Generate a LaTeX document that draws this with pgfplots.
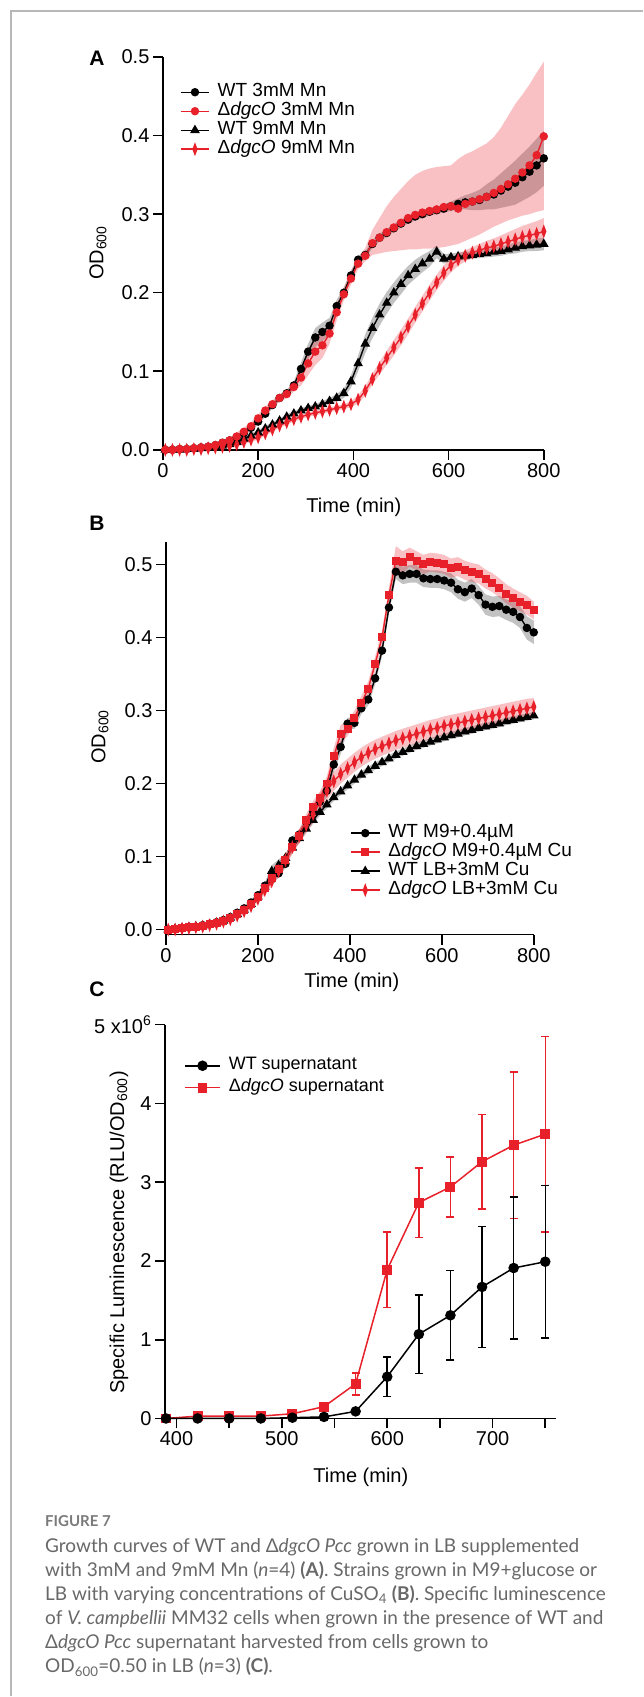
\documentclass[border=0pt]{standalone}
\usepackage{fontspec}
\setmainfont{Liberation Sans}
\newfontfamily\capfont{Lato}
\usepackage{pgfplots}
\usepackage{pgfplotstable}
\pgfplotsset{compat=1.18}
\usepgfplotslibrary{fillbetween}
\definecolor{pred}{HTML}{E8202A}
\definecolor{capgray}{HTML}{686868}
\newcommand\tf{\fontsize{20}{22}\selectfont}
\newcommand\lf{\fontsize{19}{21}\selectfont}

% panel A: Mn growth curves (mean, sd)
\pgfplotstableread{
t w3 sw3 d3 d3lo d3hi w9 sw9 d9 sd9
5 0.000 0.002 0.000 -0.003 0.003 0.000 0.002 0.000 0.002
20 0.000 0.002 0.000 -0.003 0.003 0.000 0.002 0.000 0.002
35 0.001 0.002 0.001 -0.002 0.004 0.000 0.002 0.000 0.002
50 0.001 0.002 0.001 -0.002 0.004 0.001 0.002 0.000 0.002
65 0.002 0.002 0.002 -0.001 0.005 0.001 0.002 0.001 0.002
80 0.003 0.002 0.003 0.000 0.006 0.002 0.002 0.001 0.002
95 0.004 0.002 0.004 0.001 0.007 0.003 0.002 0.002 0.002
110 0.006 0.003 0.006 0.002 0.010 0.004 0.002 0.003 0.002
125 0.009 0.003 0.009 0.005 0.013 0.005 0.002 0.004 0.002
140 0.012 0.003 0.012 0.008 0.016 0.007 0.003 0.005 0.002
155 0.016 0.003 0.017 0.012 0.022 0.010 0.003 0.007 0.003
170 0.021 0.003 0.023 0.018 0.028 0.014 0.003 0.010 0.003
185 0.028 0.004 0.030 0.025 0.035 0.018 0.003 0.013 0.003
200 0.036 0.004 0.040 0.035 0.045 0.022 0.003 0.016 0.003
215 0.046 0.004 0.050 0.045 0.055 0.027 0.003 0.021 0.003
230 0.057 0.004 0.058 0.053 0.063 0.032 0.003 0.026 0.003
245 0.066 0.004 0.066 0.061 0.071 0.037 0.003 0.031 0.003
260 0.072 0.004 0.071 0.066 0.076 0.042 0.003 0.035 0.003
275 0.082 0.005 0.080 0.074 0.086 0.046 0.003 0.039 0.003
290 0.103 0.008 0.092 0.082 0.104 0.050 0.003 0.042 0.003
305 0.125 0.010 0.110 0.095 0.125 0.053 0.003 0.045 0.003
320 0.143 0.012 0.125 0.108 0.142 0.055 0.003 0.047 0.003
335 0.150 0.012 0.133 0.117 0.150 0.058 0.004 0.049 0.003
350 0.158 0.010 0.148 0.135 0.162 0.062 0.004 0.051 0.003
365 0.183 0.008 0.175 0.165 0.186 0.066 0.005 0.053 0.003
380 0.200 0.006 0.198 0.190 0.207 0.072 0.006 0.055 0.003
395 0.222 0.006 0.218 0.210 0.227 0.087 0.008 0.058 0.004
410 0.242 0.005 0.237 0.230 0.245 0.110 0.010 0.064 0.005
425 0.248 0.005 0.247 0.240 0.257 0.135 0.012 0.075 0.006
440 0.262 0.005 0.263 0.248 0.280 0.155 0.013 0.090 0.007
455 0.270 0.005 0.270 0.250 0.295 0.172 0.014 0.104 0.008
470 0.276 0.005 0.277 0.252 0.310 0.187 0.014 0.117 0.009
485 0.282 0.005 0.283 0.253 0.322 0.200 0.013 0.130 0.010
500 0.288 0.005 0.289 0.254 0.332 0.211 0.013 0.143 0.010
515 0.293 0.005 0.295 0.255 0.342 0.222 0.012 0.157 0.010
530 0.297 0.005 0.299 0.255 0.350 0.230 0.012 0.172 0.010
545 0.300 0.005 0.302 0.256 0.355 0.237 0.011 0.186 0.010
560 0.303 0.005 0.304 0.256 0.358 0.243 0.010 0.200 0.010
575 0.305 0.005 0.306 0.257 0.360 0.252 0.008 0.213 0.010
590 0.307 0.005 0.309 0.258 0.361 0.243 0.006 0.225 0.010
605 0.310 0.006 0.310 0.260 0.362 0.245 0.005 0.235 0.009
620 0.313 0.007 0.307 0.262 0.370 0.246 0.005 0.242 0.008
635 0.315 0.009 0.313 0.266 0.376 0.247 0.005 0.247 0.007
650 0.316 0.011 0.316 0.270 0.380 0.248 0.005 0.251 0.007
665 0.318 0.013 0.319 0.274 0.385 0.249 0.005 0.254 0.008
680 0.322 0.016 0.322 0.279 0.390 0.250 0.005 0.257 0.009
695 0.325 0.019 0.327 0.284 0.398 0.252 0.006 0.259 0.010
710 0.330 0.022 0.332 0.288 0.410 0.253 0.006 0.262 0.011
725 0.335 0.025 0.338 0.292 0.425 0.255 0.006 0.265 0.012
740 0.340 0.028 0.345 0.295 0.440 0.257 0.007 0.268 0.013
755 0.347 0.030 0.353 0.298 0.452 0.259 0.007 0.271 0.014
770 0.354 0.032 0.362 0.300 0.465 0.260 0.007 0.273 0.015
785 0.362 0.034 0.375 0.303 0.480 0.261 0.008 0.275 0.016
800 0.371 0.035 0.399 0.305 0.494 0.262 0.008 0.278 0.017
}\tabA

% panel B: Cu growth curves (mean, sd)
\pgfplotstableread{
t wm swm dm sdm wl swl dl sdl
5 0.000 0.003 0.000 0.003 0.000 0.003 0.000 0.003
20 0.001 0.003 0.001 0.003 0.001 0.003 0.000 0.003
35 0.002 0.003 0.002 0.003 0.002 0.003 0.001 0.003
50 0.003 0.003 0.003 0.003 0.003 0.003 0.002 0.003
65 0.004 0.003 0.004 0.003 0.004 0.003 0.003 0.003
80 0.006 0.003 0.005 0.003 0.005 0.003 0.004 0.003
95 0.008 0.003 0.007 0.003 0.007 0.003 0.006 0.003
110 0.010 0.003 0.009 0.003 0.009 0.003 0.008 0.003
125 0.013 0.003 0.012 0.003 0.012 0.003 0.011 0.003
140 0.017 0.003 0.016 0.003 0.016 0.003 0.014 0.003
155 0.023 0.003 0.021 0.003 0.021 0.003 0.019 0.004
170 0.029 0.003 0.027 0.004 0.027 0.003 0.025 0.004
185 0.037 0.004 0.035 0.004 0.035 0.004 0.032 0.004
200 0.047 0.004 0.045 0.005 0.045 0.004 0.042 0.005
215 0.060 0.005 0.057 0.006 0.058 0.006 0.054 0.006
230 0.069 0.006 0.070 0.007 0.080 0.008 0.066 0.007
245 0.077 0.006 0.083 0.008 0.088 0.008 0.080 0.008
260 0.090 0.006 0.095 0.008 0.098 0.006 0.095 0.008
275 0.122 0.006 0.113 0.008 0.112 0.006 0.113 0.009
290 0.130 0.006 0.128 0.008 0.125 0.006 0.128 0.010
305 0.148 0.006 0.150 0.008 0.138 0.005 0.143 0.011
320 0.162 0.006 0.168 0.008 0.150 0.005 0.158 0.012
335 0.175 0.007 0.180 0.009 0.161 0.005 0.175 0.013
350 0.190 0.008 0.200 0.010 0.171 0.005 0.190 0.013
365 0.226 0.010 0.237 0.012 0.181 0.005 0.203 0.013
380 0.250 0.010 0.268 0.012 0.189 0.005 0.213 0.013
395 0.282 0.008 0.275 0.010 0.197 0.005 0.221 0.013
410 0.283 0.008 0.290 0.010 0.205 0.005 0.229 0.013
425 0.303 0.008 0.310 0.010 0.212 0.005 0.236 0.013
440 0.315 0.008 0.330 0.010 0.218 0.005 0.242 0.013
455 0.344 0.008 0.364 0.010 0.224 0.005 0.247 0.013
470 0.382 0.008 0.400 0.010 0.229 0.005 0.251 0.013
485 0.441 0.008 0.458 0.010 0.234 0.005 0.255 0.013
500 0.490 0.010 0.505 0.020 0.239 0.005 0.259 0.013
515 0.485 0.012 0.503 0.015 0.243 0.005 0.262 0.013
530 0.487 0.012 0.510 0.013 0.247 0.005 0.265 0.013
545 0.487 0.012 0.505 0.013 0.251 0.005 0.268 0.013
560 0.481 0.012 0.500 0.013 0.254 0.005 0.271 0.013
575 0.480 0.012 0.503 0.013 0.257 0.005 0.274 0.013
590 0.480 0.012 0.502 0.013 0.260 0.005 0.276 0.013
605 0.478 0.012 0.500 0.013 0.263 0.005 0.279 0.013
620 0.475 0.013 0.495 0.013 0.266 0.005 0.281 0.013
635 0.466 0.013 0.497 0.013 0.268 0.005 0.283 0.013
650 0.462 0.013 0.492 0.013 0.271 0.005 0.285 0.013
665 0.467 0.013 0.489 0.013 0.273 0.005 0.287 0.013
680 0.458 0.013 0.487 0.013 0.276 0.005 0.289 0.013
695 0.445 0.014 0.480 0.013 0.278 0.005 0.291 0.013
710 0.442 0.014 0.475 0.013 0.280 0.005 0.293 0.013
725 0.443 0.014 0.468 0.013 0.282 0.005 0.295 0.013
740 0.438 0.014 0.460 0.013 0.285 0.005 0.297 0.013
755 0.435 0.015 0.454 0.013 0.287 0.005 0.299 0.013
770 0.428 0.015 0.449 0.013 0.289 0.005 0.301 0.013
785 0.413 0.016 0.444 0.013 0.291 0.005 0.303 0.013
800 0.407 0.016 0.437 0.012 0.293 0.005 0.305 0.012
}\tabB

% panel C: specific luminescence, x10^6 (mean, sd)
\pgfplotstableread{
t w sw d sd
390 0.00 0.00 0.00 0.00
420 0.00 0.00 0.03 0.00
450 0.00 0.00 0.03 0.00
480 0.00 0.00 0.03 0.00
510 0.01 0.00 0.06 0.00
540 0.02 0.00 0.15 0.00
570 0.09 0.00 0.44 0.14
600 0.53 0.25 1.89 0.48
630 1.07 0.50 2.74 0.44
660 1.31 0.57 2.94 0.38
690 1.67 0.77 3.26 0.60
720 1.91 0.90 3.47 0.93
750 1.99 0.97 3.61 1.24
}\tabC

\pgfplotsset{
  prism/.style={
    scale only axis, axis lines=left, axis line style={line width=1.6pt,-},
    tick align=outside, major tick length=10pt, minor tick length=10pt,
    tick style={line width=1.6pt, black},
    tick label style={font=\tf}, clip=false,
    /pgf/number format/assume math mode=true,
    legend cell align=left,
    legend style={draw=none, fill=none, inner sep=0pt, font=\lf,
      anchor=north west, row sep=0pt, column sep=8pt,
      nodes={inner sep=0pt, text height=14pt, text depth=5pt}},
  },
  limg/.style={legend image code/.code={
    \draw[mark repeat=2,mark phase=2,##1] plot coordinates {(0pt,0pt) (#1/2,0pt) (#1,0pt)};}},
  wcirc/.style={black, line width=1.4pt, mark=*, mark size=3.5pt},
  rcirc/.style={pred, line width=1.4pt, mark=*, mark size=3.5pt},
  wtri/.style={black, line width=1.4pt, mark=triangle*, mark size=4.2pt},
  rdia/.style={pred, line width=1.4pt, mark=diamond*, mark size=5pt, mark options={xscale=0.5}},
  rsq/.style={pred, line width=1.4pt, mark=square*, mark size=3.3pt},
  gband/.style={fill=black, fill opacity=0.24, draw=none},
  pband/.style={fill=pred, fill opacity=0.28, draw=none},
}

\begin{document}
\begin{tikzpicture}
\path (0pt,0pt) rectangle (643pt,-1697pt);
\draw[black!28, line width=1.3pt] (11pt,-1697pt) -- (11pt,-11pt) -- (643pt,-11pt);

% ---------------- A ----------------
\begin{axis}[prism, limg=28pt, at={(163pt,-450pt)}, anchor=south west,
  width=381pt, height=393pt, xmin=0, xmax=800, ymin=0, ymax=0.5,
  xtick={0,200,400,600,800}, ytick={0,0.1,0.2,0.3,0.4,0.5},
  yticklabel style={/pgf/number format/.cd, fixed, fixed zerofill, precision=1},
  legend style={at={(axis description cs:0.045,0.935)}}]
\addlegendimage{wcirc}\addlegendentry{WT 3mM Mn}
\addlegendimage{rcirc}\addlegendentry{Δ\textit{dgcO} 3mM Mn}
\addlegendimage{wtri}\addlegendentry{WT 9mM Mn}
\addlegendimage{rdia}\addlegendentry{Δ\textit{dgcO} 9mM Mn}
\addplot[name path=a1u, draw=none, forget plot] table[x=t, y expr=\thisrow{w3}+\thisrow{sw3}] {\tabA};
\addplot[name path=a1l, draw=none, forget plot] table[x=t, y expr=\thisrow{w3}-\thisrow{sw3}] {\tabA};
\addplot[gband, forget plot] fill between[of=a1u and a1l];
\addplot[name path=a3u, draw=none, forget plot] table[x=t, y expr=\thisrow{w9}+\thisrow{sw9}] {\tabA};
\addplot[name path=a3l, draw=none, forget plot] table[x=t, y expr=\thisrow{w9}-\thisrow{sw9}] {\tabA};
\addplot[gband, forget plot] fill between[of=a3u and a3l];
\addplot[wcirc, forget plot] table[x=t, y=w3] {\tabA};
\addplot[wtri, forget plot] table[x=t, y=w9] {\tabA};
\addplot[name path=a2u, draw=none, forget plot] table[x=t, y=d3hi] {\tabA};
\addplot[name path=a2l, draw=none, forget plot] table[x=t, y=d3lo] {\tabA};
\addplot[pband, forget plot] fill between[of=a2u and a2l];
\addplot[name path=a4u, draw=none, forget plot] table[x=t, y expr=\thisrow{d9}+\thisrow{sd9}] {\tabA};
\addplot[name path=a4l, draw=none, forget plot] table[x=t, y expr=\thisrow{d9}-\thisrow{sd9}] {\tabA};
\addplot[pband, forget plot] fill between[of=a4u and a4l];
\addplot[rcirc, forget plot] table[x=t, y=d3] {\tabA};
\addplot[rdia, forget plot] table[x=t, y=d9] {\tabA};
\end{axis}

% ---------------- B ----------------
\begin{axis}[prism, limg=29pt, at={(166pt,-935pt)}, anchor=south west,
  width=368pt, height=393pt, xmin=0, xmax=800, ymin=-0.007, ymax=0.531,
  xtick={0,200,400,600,800}, ytick={0,0.1,0.2,0.3,0.4,0.5},
  yticklabel style={/pgf/number format/.cd, fixed, fixed zerofill, precision=1},
  legend style={at={(axis description cs:0.5,0.283)}}]
\addlegendimage{wcirc}\addlegendentry{WT M9+0.4µM}
\addlegendimage{rsq}\addlegendentry{Δ\textit{dgcO} M9+0.4µM Cu}
\addlegendimage{wtri}\addlegendentry{WT LB+3mM Cu}
\addlegendimage{rdia}\addlegendentry{Δ\textit{dgcO} LB+3mM Cu}
\addplot[name path=b1u, draw=none, forget plot] table[x=t, y expr=\thisrow{wm}+\thisrow{swm}] {\tabB};
\addplot[name path=b1l, draw=none, forget plot] table[x=t, y expr=\thisrow{wm}-\thisrow{swm}] {\tabB};
\addplot[gband, forget plot] fill between[of=b1u and b1l];
\addplot[name path=b3u, draw=none, forget plot] table[x=t, y expr=\thisrow{wl}+\thisrow{swl}] {\tabB};
\addplot[name path=b3l, draw=none, forget plot] table[x=t, y expr=\thisrow{wl}-\thisrow{swl}] {\tabB};
\addplot[gband, forget plot] fill between[of=b3u and b3l];
\addplot[wcirc, forget plot] table[x=t, y=wm] {\tabB};
\addplot[wtri, forget plot] table[x=t, y=wl] {\tabB};
\addplot[name path=b2u, draw=none, forget plot] table[x=t, y expr=\thisrow{dm}+\thisrow{sdm}] {\tabB};
\addplot[name path=b2l, draw=none, forget plot] table[x=t, y expr=\thisrow{dm}-\thisrow{sdm}] {\tabB};
\addplot[pband, forget plot] fill between[of=b2u and b2l];
\addplot[name path=b4u, draw=none, forget plot] table[x=t, y expr=\thisrow{dl}+\thisrow{sdl}] {\tabB};
\addplot[name path=b4l, draw=none, forget plot] table[x=t, y expr=\thisrow{dl}-\thisrow{sdl}] {\tabB};
\addplot[pband, forget plot] fill between[of=b4u and b4l];
\addplot[rsq, forget plot] table[x=t, y=dm] {\tabB};
\addplot[rdia, forget plot] table[x=t, y=dl] {\tabB};
\end{axis}

% ---------------- C ----------------
\begin{axis}[prism, limg=35pt, at={(165pt,-1419pt)}, anchor=south west,
  width=391pt, height=394pt, xmin=389, xmax=760, ymin=0, ymax=5,
  xtick={400,500,600,700}, minor xtick={450,550,650,750},
  ytick={0,1,2,3,4,5}, yticklabels={0,1,2,3,4,{5 x10\textsuperscript{6}}},
  legend style={at={(axis description cs:0.049,0.924)}, font=\fontsize{18}{20}\selectfont,
    nodes={inner sep=0pt, text height=15pt, text depth=7pt}},
  error bars/error bar style={line width=1.5pt},
  error bars/error mark options={rotate=90, mark size=4pt, line width=1.5pt}]
\addlegendimage{black, line width=1.5pt, mark=*, mark size=4.5pt}\addlegendentry{WT supernatant}
\addlegendimage{pred, line width=1.5pt, mark=square*, mark size=4.2pt}\addlegendentry{Δ\textit{dgcO} supernatant}
\addplot[pred, line width=1.5pt, mark=square*, mark size=4.2pt, forget plot,
  error bars/.cd, y dir=both, y explicit] table[x=t, y=d, y error=sd] {\tabC};
\addplot[black, line width=1.5pt, mark=*, mark size=4.5pt, forget plot,
  error bars/.cd, y dir=both, y explicit] table[x=t, y=w, y error=sw] {\tabC};
\end{axis}

% panel letters and axis titles
\node[font=\fontsize{21}{22}\selectfont\bfseries] at (97pt,-58pt) {A};
\node[font=\fontsize{21}{22}\selectfont\bfseries] at (97pt,-523pt) {B};
\node[font=\fontsize{21}{22}\selectfont\bfseries] at (97pt,-990pt) {C};
\node[font=\tf, rotate=90] at (98pt,-253pt) {OD\textsubscript{600}};
\node[font=\tf, rotate=90] at (100pt,-737pt) {OD\textsubscript{600}};
\node[font=\tf, rotate=90] at (119pt,-1233pt) {Specific Luminescence (RLU/OD\textsubscript{600})};
\node[font=\tf] at (354pt,-508pt) {Time (min)};
\node[font=\tf] at (352pt,-983pt) {Time (min)};
\node[font=\tf] at (361pt,-1478pt) {Time (min)};

% caption
\node[anchor=base west, inner sep=0pt, font=\capfont\bfseries\fontsize{15}{17}\selectfont, text=black!52] at (45pt,-1527pt) {FIGURE 7};
\begin{scope}[every node/.style={anchor=base west, inner sep=0pt, text=capgray, font=\capfont\fontsize{19}{24}\selectfont}]
\node at (45pt,-1553pt) {Growth curves of WT and Δ\textit{dgcO Pcc} grown in LB supplemented};
\node at (45pt,-1577pt) {with 3mM and 9mM Mn (\textit{n}=4) \textbf{(A)}. Strains grown in M9+glucose or};
\node at (45pt,-1601pt) {LB with varying concentrations of CuSO\textsubscript{4} \textbf{(B)}. Specific luminescence};
\node at (45pt,-1625pt) {of \textit{V. campbellii} MM32 cells when grown in the presence of WT and};
\node at (45pt,-1649pt) {Δ\textit{dgcO Pcc} supernatant harvested from cells grown to};
\node at (45pt,-1673pt) {OD\textsubscript{600}=0.50 in LB (\textit{n}=3) \textbf{(C)}.};
\end{scope}
\end{tikzpicture}
\end{document}
